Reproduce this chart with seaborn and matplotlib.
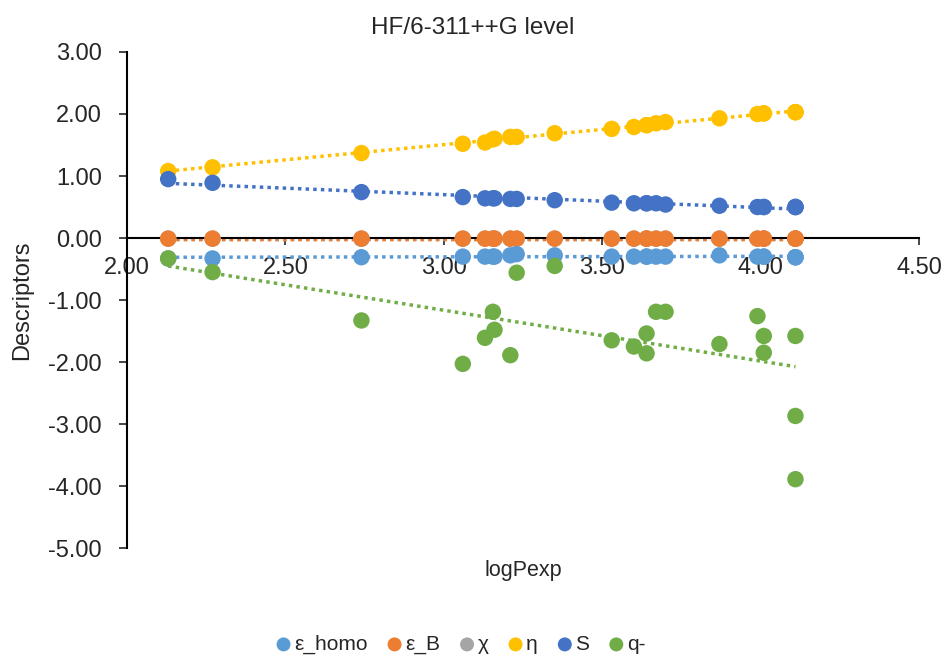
import numpy as np
import pandas as pd
import matplotlib
matplotlib.use('Agg')
import matplotlib.pyplot as plt
import seaborn as sns

# data
logPexp = [2.13, 2.27, 2.74, 3.06, 3.13, 3.155, 3.16, 3.21, 3.23, 3.35, 3.53, 3.60,
           3.64, 3.64, 3.67, 3.70, 3.87, 3.99, 4.01, 4.01, 4.11, 4.11, 4.11]
e_homo = [-0.33, -0.33, -0.31, -0.30, -0.30, -0.30, -0.30, -0.28, -0.26, -0.28, -0.30, -0.30,
          -0.30, -0.30, -0.30, -0.30, -0.28, -0.30, -0.30, -0.30, -0.31, -0.31, -0.31]
e_B = [-0.01] * 23
chi = [-0.01] * 23
eta = [1.08, 1.14, 1.37, 1.52, 1.54, 1.59, 1.60, 1.63, 1.63, 1.69, 1.76, 1.79,
       1.82, 1.82, 1.85, 1.87, 1.93, 2.00, 2.01, 2.01, 2.03, 2.03, 2.03]
S = [0.95, 0.89, 0.74, 0.66, 0.64, 0.64, 0.64, 0.63, 0.63, 0.61, 0.57, 0.56,
     0.56, 0.56, 0.56, 0.54, 0.52, 0.50, 0.50, 0.50, 0.50, 0.50, 0.50]
q_minus = [-0.33, -0.55, -1.33, -2.03, -1.61, -1.19, -1.48, -1.89, -0.56, -0.45, -1.65, -1.75,
           -1.54, -1.86, -1.19, -1.19, -1.71, -1.26, -1.58, -1.85, -1.58, -2.87, -3.89]

series = [('ε_homo', e_homo, '#5B9BD5'),
          ('ε_B', e_B, '#ED7D31'),
          ('χ', chi, '#A5A5A5'),
          ('η', eta, '#FFC000'),
          ('S', S, '#4472C4'),
          ('q-', q_minus, '#70AD47')]

sns.set_style('white')
plt.rcParams['font.family'] = ['Liberation Sans', 'DejaVu Sans']

fig = plt.figure(figsize=(9.45, 6.59), dpi=100)
ax = fig.add_axes([0.1344, 0.1684, 0.8381, 0.7527])
ax.set_axisbelow(True)

# dotted linear trendlines first, then the points on top
order = [2, 1, 0, 3, 4, 5]
for i in order:
    name, vals, col = series[i]
    df = pd.DataFrame({'x': logPexp, 'y': vals})
    sns.regplot(data=df, x='x', y='y', ax=ax, ci=None, scatter=False, truncate=True,
                line_kws=dict(color=col, lw=2.5, linestyle=(0, (1, 1.2)), zorder=2))
for i in order:
    name, vals, col = series[i]
    df = pd.DataFrame({'x': logPexp, 'y': vals})
    sns.scatterplot(data=df, x='x', y='y', ax=ax, color=col, s=140, edgecolor='none',
                    label=name, zorder=3)

ax.set_xlim(2.0, 4.5)
ax.set_ylim(-5.0, 3.0)
ax.set_xticks(np.arange(2.0, 4.51, 0.5))
ax.set_yticks(np.arange(-5, 3.01, 1))
ax.xaxis.set_major_formatter(plt.FormatStrFormatter('%.2f'))
ax.yaxis.set_major_formatter(plt.FormatStrFormatter('%.2f'))
ax.spines['top'].set_visible(False)
ax.spines['right'].set_visible(False)
ax.spines['bottom'].set_position(('data', 0))
for sp in ['left', 'bottom']:
    ax.spines[sp].set_color('black')
    ax.spines[sp].set_linewidth(1.5)
ax.tick_params(axis='x', direction='out', length=5, width=1.2, pad=9, labelsize=17, bottom=True)
ax.tick_params(axis='y', direction='out', length=6, width=1.2, pad=12, labelsize=17, left=True)

ax.set_xlabel('logPexp', fontsize=15.5)
ax.xaxis.set_label_coords(0.5, -0.025)
ax.set_ylabel('Descriptors', fontsize=17)
ax.yaxis.set_label_coords(-0.118, 0.5)
fig.suptitle('HF/6-311++G level', fontsize=17.5, y=0.957, va='center')

handles, labels = ax.get_legend_handles_labels()
ax.get_legend().remove()
hmap = dict(zip(labels, handles))
names = [s[0] for s in series]
fig.legend([hmap[n] for n in names], names, loc='center', bbox_to_anchor=(0.487, 0.022),
           ncol=6, frameon=False, fontsize=15, handlelength=0.8, handletextpad=0.1,
           columnspacing=0.9, markerscale=0.85)

fig.savefig('out.png', dpi=100)
